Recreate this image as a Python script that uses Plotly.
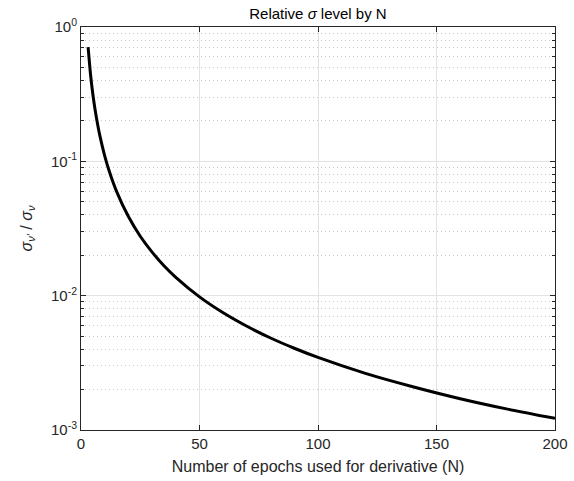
import plotly.graph_objects as go

# Values
n_epochs = [3, 4, 5, 6, 7, 8, 10, 12, 15, 20, 25, 30, 35, 40, 50, 60, 70, 80, 90, 100,
            120, 140, 160, 180, 200]
rel_sigma = [0.707, 0.447, 0.316, 0.239, 0.189, 0.154, 0.110, 0.0836, 0.0598, 0.0388,
             0.0277, 0.0211, 0.0167, 0.0137, 0.0098, 0.00746, 0.00592, 0.00484, 0.00406,
             0.00347, 0.00264, 0.00210, 0.00171, 0.00143, 0.00122]

x_ticks = [0, 50, 100, 150, 200]
y_ticks = [1e-3, 1e-2, 1e-1, 1e0]
y_tick_text = ["10<sup>-3</sup>", "10<sup>-2</sup>", "10<sup>-1</sup>", "10<sup>0</sup>"]

font = "Liberation Sans, Arial, sans-serif"

fig = go.Figure()
fig.add_trace(go.Scatter(
    x=n_epochs, y=rel_sigma, mode="lines",
    line=dict(color="black", width=3, shape="spline", smoothing=0.8),
    showlegend=False, hoverinfo="skip",
))

axis_common = dict(
    showline=True, linecolor="#262626", linewidth=1, mirror="allticks",
    ticks="inside", ticklen=5, tickcolor="#262626",
    showgrid=True, gridcolor="#e3e3e3", gridwidth=1, automargin=False,
    zeroline=False, tickfont=dict(size=15, color="#262626", family=font),
)

fig.update_layout(
    width=574, height=481,
    margin=dict(l=81, r=19, t=27, b=51),
    paper_bgcolor="white", plot_bgcolor="white",
    title=dict(text="Relative <i>σ</i> level by N", x=0.554, xanchor="center",
               y=0.972, yanchor="middle",
               font=dict(size=15, color="black", family=font)),
    xaxis=dict(range=[0, 200], tickvals=x_ticks,
               title=dict(text="Number of epochs used for derivative (N)",
                          font=dict(size=16, color="#262626", family=font), standoff=9),
               **axis_common),
    yaxis=dict(type="log", range=[-3, 0], tickvals=y_ticks, ticktext=y_tick_text,
               title=dict(text="<i>σ</i><sub><i>ν'</i></sub> / <i>σ</i><sub><i>ν</i></sub>",
                          font=dict(size=16, color="#262626", family=font), standoff=14),
               minor=dict(dtick="D1", ticks="inside", ticklen=3, tickcolor="#262626",
                          showgrid=True, gridcolor="#c8c8c8", griddash="1px,3px", gridwidth=1),
               **axis_common),
)

fig.write_html("out.html", config={"displayModeBar": False},
               post_script="document.body.style.margin='0';document.body.style.overflow='hidden';")
